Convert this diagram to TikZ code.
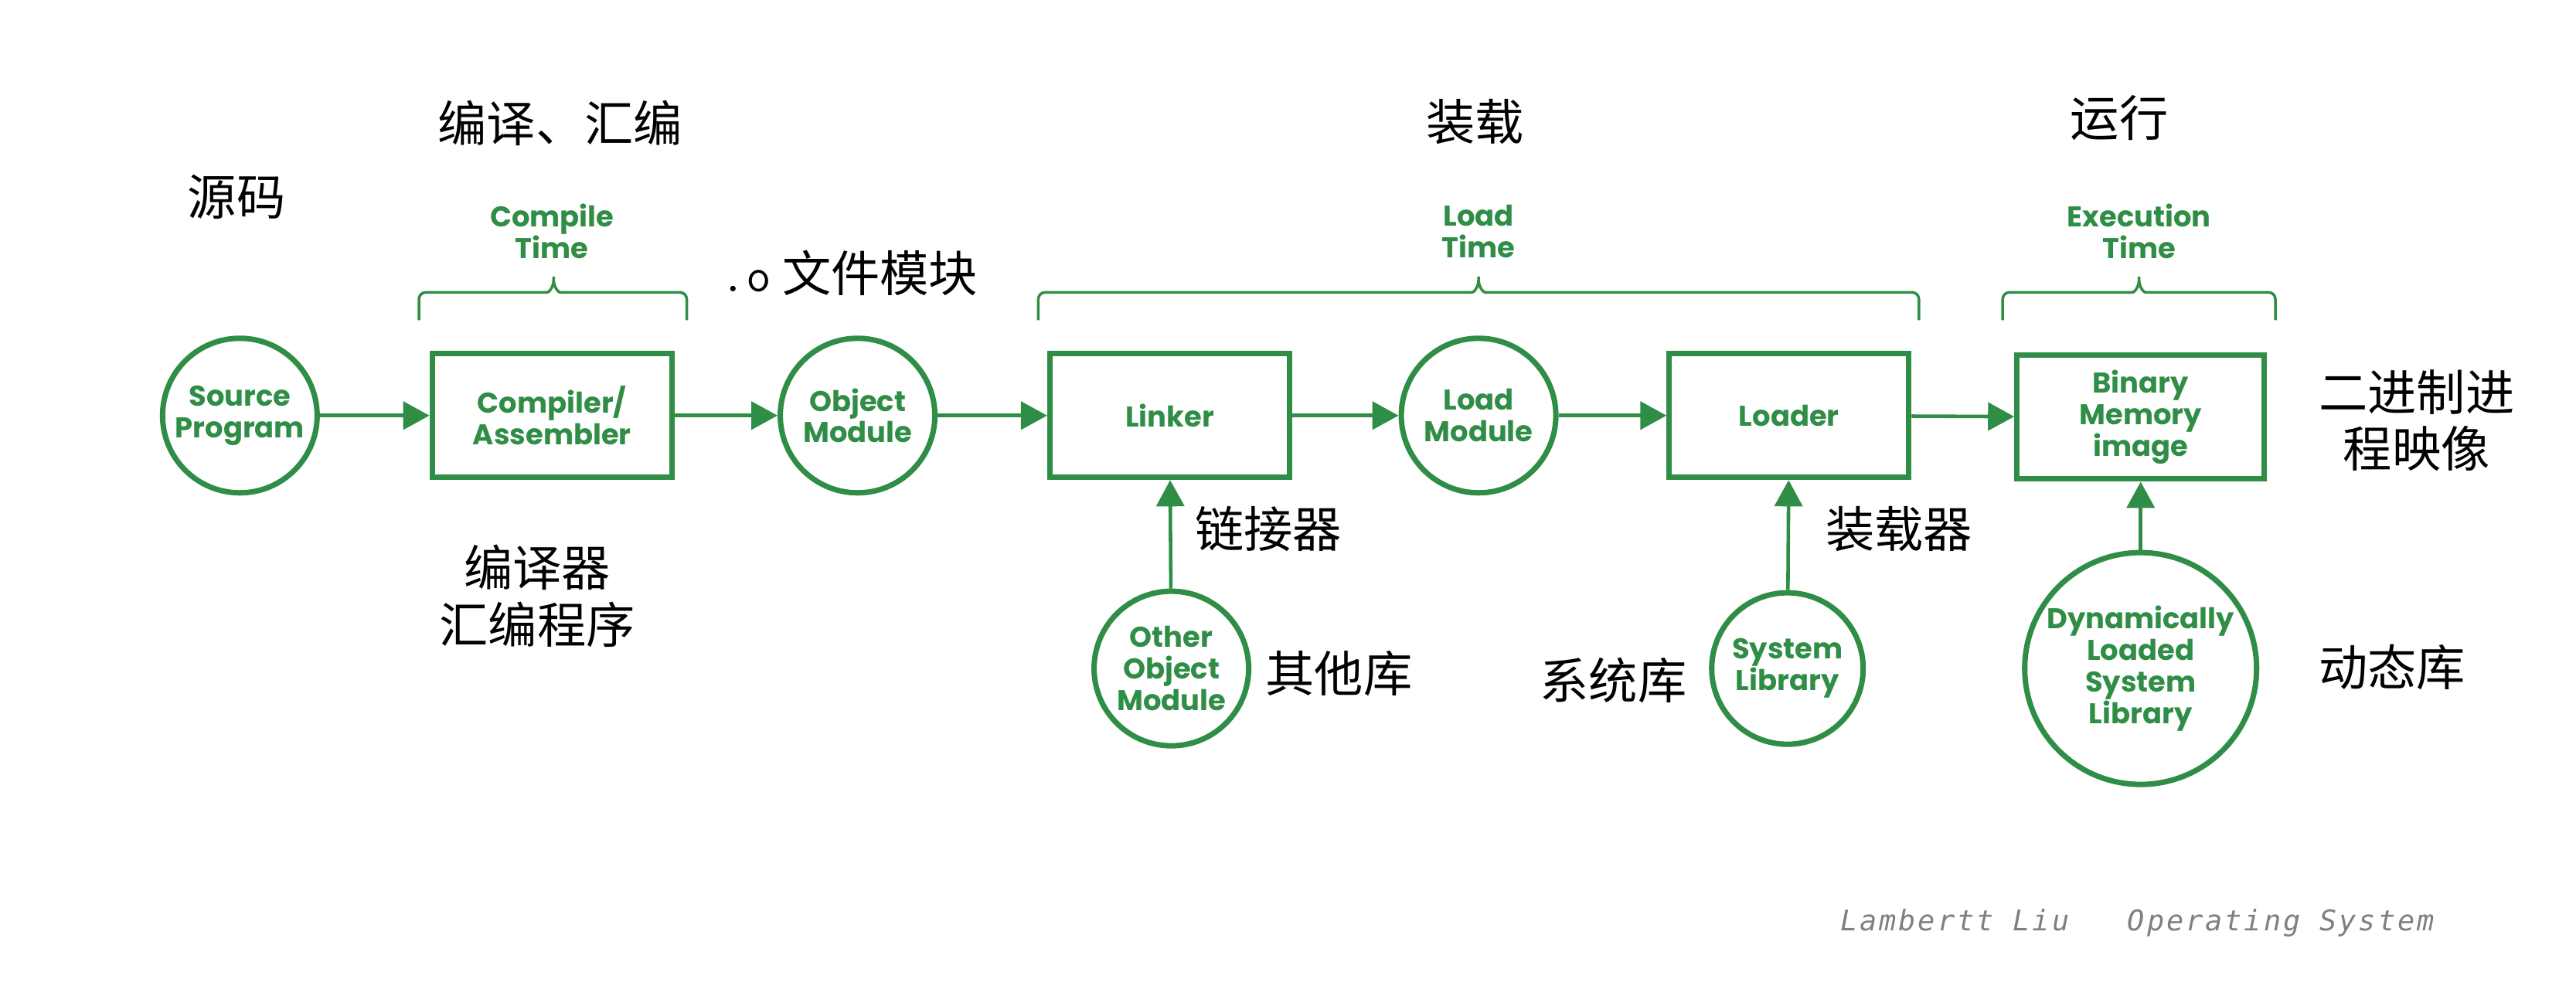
\documentclass[tikz,border=0pt]{standalone}
\usepackage{fontspec}
\usepackage{tikz}
\usetikzlibrary{arrows.meta}

\newfontfamily\cjk{Noto Sans CJK SC}
\newfontfamily\gfont{Poppins}
\newfontfamily\signfont[LetterSpace=8]{DejaVu Sans Mono}
\definecolor{ggreen}{HTML}{2F8D46}

\tikzset{
  gtext/.style={text=ggreen, align=center, font=\gfont\bfseries\fontsize{10.5}{11.6}\selectfont},
  stage/.style={gtext, circle, draw=ggreen, line width=2pt, minimum size=2cm, inner sep=0pt},
  tool/.style={gtext, rectangle, draw=ggreen, line width=2pt, minimum width=3.1cm, minimum height=1.6cm, inner sep=0pt},
  flow/.style={draw=ggreen, line width=1.3pt, -{Triangle[length=3.4mm,width=3.6mm]}},
  brace/.style={draw=ggreen, line width=1pt, rounded corners=2.5pt},
  note/.style={align=center, font=\cjk\fontsize{18}{21}\selectfont}
}

\begin{document}
\begin{tikzpicture}[x=0.021256cm, y=-0.021256cm]
\useasboundingbox (0,0) rectangle (1568,600);

% main line
\node[stage] (src) at (146,253) {Source\\Program};
\node[tool] (comp) at (336,253) {Compiler/\\Assembler};
\node[stage] (obj) at (522,253) {Object\\Module};
\node[tool] (link) at (712,253) {Linker};
\node[stage] (loadm) at (900,253) {Load\\Module};
\node[tool] (loader) at (1089,253) {Loader};
\node[tool, minimum width=3.2cm] (bin) at (1303,254) {Binary\\Memory\\image};

% libraries
\node[stage] (other) at (713,407) {Other\\Object\\Module};
\node[stage, minimum size=1.96cm] (syslib) at (1088,407) {System\\Library};
\node[stage, minimum size=3cm] (dyn) at (1303,407) {Dynamically\\Loaded\\System\\Library};

\draw[flow] (src) -- (comp);
\draw[flow] (comp) -- (obj);
\draw[flow] (obj) -- (link);
\draw[flow] (link) -- (loadm);
\draw[flow] (loadm) -- (loader);
\draw[flow] (loader) -- (bin);
\draw[flow] (other) -- (link);
\draw[flow] (syslib) -- (loader);
\draw[flow] (dyn) -- (bin);

% time braces
\draw[brace] (255,195) -- (255,178) -- (329,178) .. controls (334,178) and (337,175) .. (337,166) .. controls (337,175) and (340,178) .. (345,178) -- (418,178) -- (418,195);
\draw[brace] (632,195) -- (632,178) -- (892,178) .. controls (897,178) and (900,175) .. (900,166) .. controls (900,175) and (903,178) .. (908,178) -- (1168,178) -- (1168,195);
\draw[brace] (1219,195) -- (1219,178) -- (1294,178) .. controls (1299,178) and (1302,175) .. (1302,166) .. controls (1302,175) and (1305,178) .. (1310,178) -- (1385,178) -- (1385,195);
\node[gtext] (ctime) at (336,141) {Compile\\Time};
\node[gtext] (ltime) at (900,141) {Load\\Time};
\node[gtext] (etime) at (1302,141) {Execution\\Time};

% chinese notes
\node[note] (nsrc) at (144,120) {源码};
\node[note] (ncomp) at (341,75) {编译、汇编};
\node[note] (nobj) at (517,166) {\texttt{.o} 文件模块};
\node[note] (nload) at (898,74) {装载};
\node[note] (nrun) at (1290,72) {运行};
\node[note] (ntool) at (327,363) {编译器\\汇编程序};
\node[note] (nlink) at (772,322) {链接器};
\node[note] (nother) at (815,410) {其他库};
\node[note] (nsys) at (982,414) {系统库};
\node[note] (nloader) at (1156,322) {装载器};
\node[note] (nbin) at (1471,256) {二进制进\\程映像};
\node[note] (ndyn) at (1456,406) {动态库};

\node[text=gray, font=\signfont\itshape\fontsize{10.5}{12}\selectfont] (sign) at (1301,562) {Lambertt Liu\ \ \ Operating System};
\end{tikzpicture}
\end{document}
